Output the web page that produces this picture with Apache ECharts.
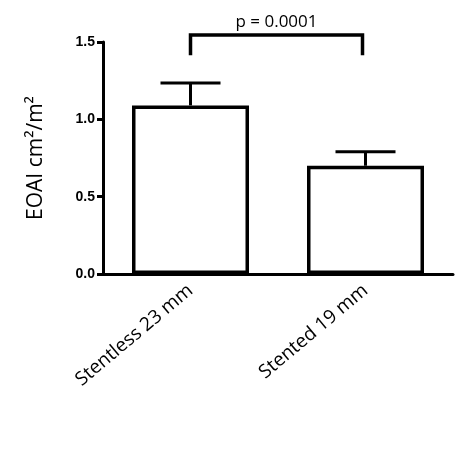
<!DOCTYPE html><html><head><meta charset="utf-8"><script src="https://cdn.jsdelivr.net/npm/echarts@6/dist/echarts.min.js"></script></head><body style="margin:0"><div id="c" style="width:470px;height:449px"></div><script>
var categories=['Stentless 23 mm','Stented 19 mm'];
var means=[1.09,0.70];
var errTops=[1.235,0.79];
var bracket=[[0,1.415,1.545],[1,1.415,1.545]];
var yTicks=[0,0.5,1.0,1.5];
var c=echarts.init(document.getElementById('c'));
c.setOption({animation:false,
grid:{left:103,right:17,top:42,bottom:175},
xAxis:{type:'category',data:categories,axisLine:{lineStyle:{color:'#000',width:3}},axisTick:{alignWithLabel:true,length:7,lineStyle:{width:3,color:'#000'}},
axisLabel:{rotate:40,fontSize:19,color:'#000',fontFamily:'Open Sans',margin:14}},
yAxis:{type:'value',min:0,max:1.5,interval:0.5,splitLine:{show:false},axisLine:{show:true,lineStyle:{color:'#000',width:3}},axisTick:{show:true,length:6,lineStyle:{width:3}},
axisLabel:{fontSize:14,fontWeight:'bold',color:'#000',fontFamily:'Liberation Sans',formatter:function(v){return v.toFixed(1);}},
name:'EOAI cm²/m²',nameLocation:'middle',nameGap:56,nameTextStyle:{fontSize:21,color:'#000',fontFamily:'Open Sans'}},
series:[{type:'bar',data:means,barWidth:117,itemStyle:{color:'#fff',borderColor:'#000',borderWidth:3.5},z:2},
{type:'custom',data:means.map(function(m,i){return [i,m,errTops[i]];}),z:1,renderItem:function(p,api){var a=api.coord([api.value(0),api.value(1)]),b=api.coord([api.value(0),api.value(2)]);
return {type:'group',children:[{type:'line',shape:{x1:a[0],y1:a[1],x2:b[0],y2:b[1]},style:{stroke:'#000',lineWidth:3}},{type:'line',shape:{x1:b[0]-30,y1:b[1],x2:b[0]+30,y2:b[1]},style:{stroke:'#000',lineWidth:3}}]};}},
{type:'custom',data:[0],clip:false,renderItem:function(p,api){var l0=api.coord([0,bracket[0][1]]),l1=api.coord([0,bracket[0][2]]),r0=api.coord([1,bracket[1][1]]);r0[0]-=3;
return {type:'group',children:[{type:'polyline',shape:{points:[[l0[0],l0[1]],[l1[0],l1[1]],[r0[0],l1[1]],[r0[0],r0[1]]]},style:{stroke:'#000',lineWidth:3.5,fill:null}},
{type:'text',style:{text:'p = 0.0001',x:(l0[0]+r0[0])/2,y:l1[1]-4,align:'center',verticalAlign:'bottom',fontSize:17,fill:'#000',fontFamily:'Open Sans'}}]};}}]});
</script></body></html>
